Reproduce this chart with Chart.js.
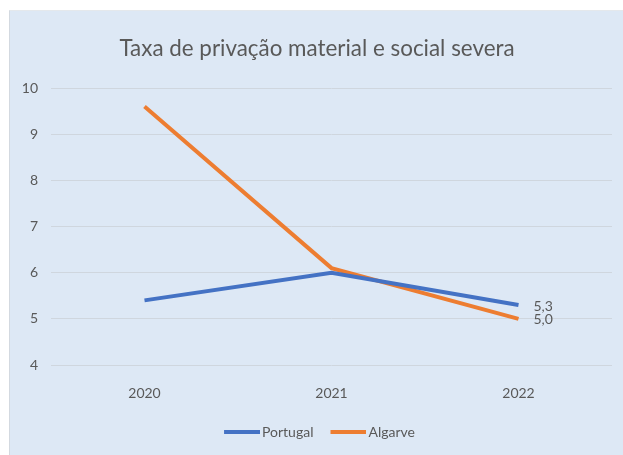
<!DOCTYPE html>
<html>
<head>
<meta charset="utf-8">
<script src="https://cdn.jsdelivr.net/npm/chart.js@4/dist/chart.umd.min.js"></script>
<style>
  body { margin: 0; background: #fff; }
  #wrap {
    position: absolute; left: 9px; top: 10px; width: 614px; height: 445px;
    background: #dde8f5; border-left: 1px solid #d3d9e0; border-top: 1px solid #e4e8ec;
    box-sizing: border-box;
  }
</style>
</head>
<body>
<div id="wrap"><canvas id="chart"></canvas></div>
<script>
const years = ["2020", "2021", "2022"];
const portugal = [5.4, 6.0, 5.3];
const algarve = [9.6, 6.1, 5.0];
const yTicks = [4, 5, 6, 7, 8, 9, 10];

const font = "Lato";
const grey = "#595959";
const blue = "#4472c4";
const orange = "#ed7d31";

// marcador da legenda: traço encostado ao texto
function legendLine(color) {
  const c = document.createElement("canvas");
  c.width = 46;
  c.height = 4;
  const g = c.getContext("2d");
  g.fillStyle = color;
  g.fillRect(10, 0, 36, 4);
  return c;
}

// valor só no último ponto, à direita da linha
const endLabels = {
  id: "endLabels",
  afterDatasetsDraw(chart) {
    const ctx = chart.ctx;
    ctx.save();
    ctx.font = "14px " + font;
    ctx.fillStyle = grey;
    ctx.textAlign = "left";
    ctx.textBaseline = "middle";
    chart.data.datasets.forEach((ds, i) => {
      const meta = chart.getDatasetMeta(i);
      const last = meta.data[meta.data.length - 1];
      const v = ds.data[ds.data.length - 1];
      ctx.fillText(v.toFixed(1).replace(".", ","), last.x + 15, last.y + 1);
    });
    ctx.restore();
  }
};

const ctx = document.getElementById("chart").getContext("2d");
new Chart(ctx, {
  type: "line",
  data: {
    labels: years,
    datasets: [
      { label: "Portugal", data: portugal, borderColor: blue, backgroundColor: blue,
        borderWidth: 4, pointRadius: 0, pointStyle: legendLine(blue), tension: 0 },
      { label: "Algarve", data: algarve, borderColor: orange, backgroundColor: orange,
        borderWidth: 4, pointRadius: 0, pointStyle: legendLine(orange), tension: 0 }
    ]
  },
  options: {
    responsive: true,
    maintainAspectRatio: false,
    animation: false,
    layout: { padding: { left: 12, right: 11, top: 0, bottom: 6 } },
    plugins: {
      title: {
        display: true,
        text: "Taxa de privação material e social severa",
        color: grey,
        font: { family: font, size: 22.4, weight: "normal" },
        padding: { top: 24, bottom: 26.2 }
      },
      legend: {
        position: "bottom",
        labels: {
          color: grey,
          font: { family: font, size: 14 },
          usePointStyle: true,
          pointStyleWidth: 36,
          padding: 12
        }
      },
      tooltip: { enabled: false }
    },
    scales: {
      x: {
        offset: true,
        afterFit(scale) { scale.height = 48; },
        grid: { display: false, drawTicks: false, offset: true },
        border: { display: false },
        ticks: { color: grey, font: { family: font, size: 14 }, padding: 20 }
      },
      y: {
        min: 4,
        max: 10,
        afterFit(scale) { scale.width = 29; },
        afterBuildTicks(scale) { scale.ticks = yTicks.map(v => ({ value: v })); },
        grid: { color: "#cfd6de", lineWidth: 1, drawTicks: false },
        border: { display: false },
        ticks: { color: grey, font: { family: font, size: 14 }, padding: 13 }
      }
    }
  },
  plugins: [endLabels]
});
</script>
</body>
</html>
